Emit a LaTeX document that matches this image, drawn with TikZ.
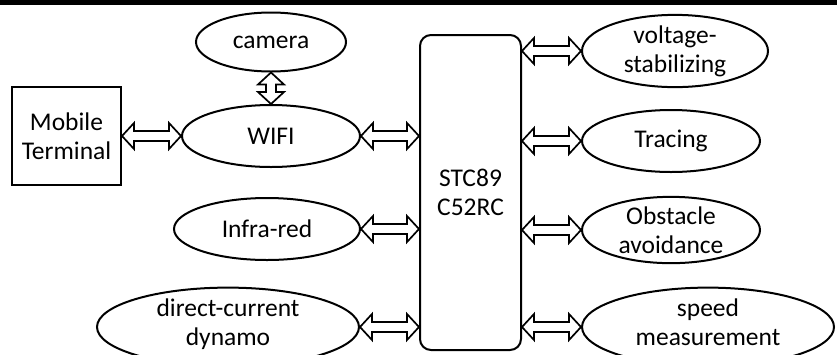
\documentclass[tikz,border=0pt]{standalone}
\usepackage{fontspec}
\setmainfont{Carlito}
\usetikzlibrary{shapes.geometric,calc}
\tikzset{
  ell/.style={draw=black,line width=2pt,ellipse,inner sep=0pt,align=center,font=\fontsize{25.5}{29}\selectfont},
  box/.style={draw=black,line width=2pt,rectangle,inner sep=0pt,align=center,font=\fontsize{25.5}{29}\selectfont},
  arr/.style={draw=black,fill=white,line width=1.7pt,line join=miter}
}
\newcommand\myharrow[2]{\path[arr] let \p1=#1, \p2=#2 in
  (\x1,\y1) -- (\x1+12pt,\y1+13pt) -- (\x1+12pt,\y1+5pt) -- (\x2-12pt,\y1+5pt) -- (\x2-12pt,\y1+13pt) -- (\x2,\y1)
  -- (\x2-12pt,\y1-13pt) -- (\x2-12pt,\y1-5pt) -- (\x1+12pt,\y1-5pt) -- (\x1+12pt,\y1-13pt) -- cycle;}
\newcommand\myvarrow[2]{\path[arr] let \p1=#1, \p2=#2 in
  (\x1,\y1) -- (\x1+13pt,\y1-12pt) -- (\x1+5pt,\y1-12pt) -- (\x1+5pt,\y2+12pt) -- (\x1+13pt,\y2+12pt) -- (\x1,\y2)
  -- (\x1-13pt,\y2+12pt) -- (\x1-5pt,\y2+12pt) -- (\x1-5pt,\y1-12pt) -- (\x1-13pt,\y1-12pt) -- cycle;}
\begin{document}
\begin{tikzpicture}[x=1pt,y=-1pt]
\useasboundingbox (0,0) rectangle (837,354);
\fill[black] (0,0) rectangle (837,5);
\node[box,minimum width=109pt,minimum height=98pt] (mob) at (66.5,136) {Mobile\\Terminal};
\node[ell,minimum width=150pt,minimum height=59pt] (cam) at (271,42) {camera};
\node[ell,minimum width=178pt,minimum height=62pt] (wifi) at (271,136) {WIFI};
\node[ell,minimum width=186pt,minimum height=62pt] (infra) at (267,229) {Infra-red};
\node[ell,minimum width=262pt,minimum height=58pt,text depth=9pt] (dyn) at (228,327) {direct-current\\dynamo};
\node[box,rounded corners=11pt,minimum width=101pt,minimum height=315pt] (stc) at (470.5,192.5) {STC89\\C52RC};
\node[ell,minimum width=186pt,minimum height=62pt] (volt) at (675,51) {voltage-\\stabilizing};
\node[ell,minimum width=178pt,minimum height=62pt] (trac) at (671,141) {Tracing};
\node[ell,minimum width=178pt,minimum height=60pt] (obs) at (671,230) {Obstacle\\avoidance};
\node[ell,minimum width=252pt,minimum height=58pt,text depth=9pt] (spd) at (708,327) {speed\\measurement};
\myvarrow{(cam.south)}{(wifi.north)}
\myharrow{(mob.east)}{(wifi.west)}
\myharrow{(wifi.east)}{(stc.west |- wifi.east)}
\myharrow{(infra.east)}{(stc.west |- infra.east)}
\myharrow{(dyn.east)}{(stc.west |- dyn.east)}
\myharrow{(stc.east |- volt.west)}{(volt.west)}
\myharrow{(stc.east |- trac.west)}{(trac.west)}
\myharrow{(stc.east |- obs.west)}{(obs.west)}
\myharrow{(stc.east |- spd.west)}{(spd.west)}
\end{tikzpicture}
\end{document}
